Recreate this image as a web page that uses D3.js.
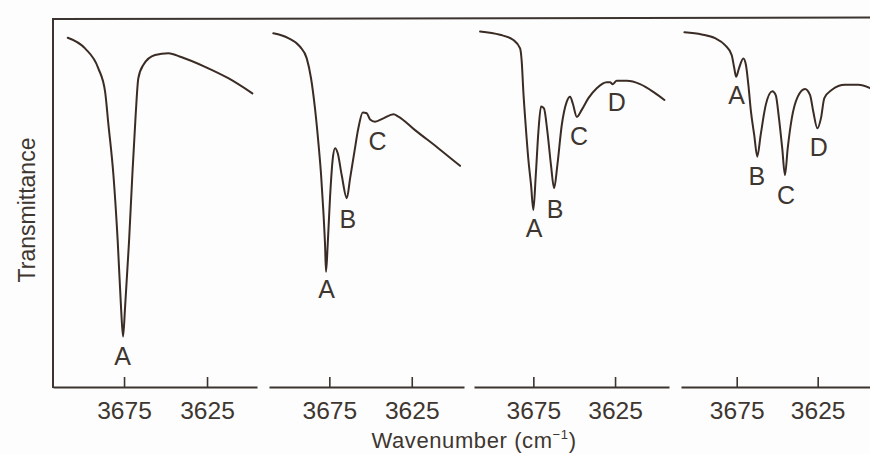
<!DOCTYPE html>
<html>
<head>
<meta charset="utf-8">
<script src="https://cdn.jsdelivr.net/npm/d3@7"></script>
<style>
  html, body { margin: 0; padding: 0; background: #fdfdfd; }
  svg { display: block; }
  text { font-family: "Liberation Sans", Arial, sans-serif; fill: #3e3630; }
</style>
</head>
<body>
<svg id="chart" width="870" height="454"></svg>
<script>
// ---- Data (wavenumber cm^-1, transmittance in arbitrary % units) ----
const tickValues = [3675, 3625];
const tickLabels = ["3675", "3625"];
const xTitle = "Wavenumber (cm";
const yTitle = "Transmittance";

const wn1 = [3708.9,3698.5,3690.5,3686.4,3684.5,3681.4,3678.8,3676.8,3675.6,3674.4,3672.0,3670.0,3668.0,3666.4,3663.4,3656.3,3648.3,3640.2,3626.2,3612.2,3597.7];
const t1  = [94.9,92.0,86.6,80.2,71.7,57.6,39.5,21.5,13.7,21.5,39.5,57.6,73.9,83.9,87.5,90.2,90.7,89.6,87.0,83.9,79.8];

const wn2 = [3709.0,3699.9,3692.8,3688.7,3686.1,3683.7,3681.7,3680.0,3678.6,3677.6,3677.0,3676.0,3674.6,3672.9,3671.5,3669.9,3667.5,3664.4,3662.4,3659.8,3657.4,3654.7,3652.3,3650.3,3647.3,3642.2,3636.1,3633.1,3623.0,3608.9,3595.7];
const t2  = [96.1,94.8,92.5,89.3,83.9,75.7,66.7,57.6,47.6,38.6,31.3,38.6,51.3,62.1,64.9,63.5,57.6,51.3,56.7,63.9,70.3,74.6,74.4,72.7,72.1,73.0,74.1,73.5,69.8,64.9,60.1];

const wn3 = [3707.6,3695.4,3687.2,3683.1,3682.1,3681.1,3679.7,3678.1,3676.4,3675.0,3673.5,3671.9,3670.3,3668.5,3666.4,3664.2,3662.3,3660.3,3657.6,3654.6,3652.5,3650.9,3648.4,3645.4,3641.3,3636.2,3630.1,3628.1,3626.4,3624.0,3617.8,3609.7,3601.6,3594.8];
const t3  = [96.6,95.7,94.3,92.0,88.4,80.2,71.2,62.1,54.9,48.1,57.6,69.4,76.2,75.7,69.4,60.3,54.0,60.3,71.2,77.5,78.9,77.1,73.4,75.3,78.5,81.2,82.8,82.8,82.3,83.2,83.2,82.3,80.2,78.0];

const wn4 = [3707.3,3696.6,3688.4,3682.2,3678.1,3676.5,3675.4,3673.6,3670.9,3669.3,3667.8,3666.2,3664.2,3662.3,3660.2,3657.1,3653.0,3650.9,3648.9,3646.9,3645.2,3643.5,3641.0,3637.3,3632.8,3629.7,3627.7,3625.2,3623.0,3620.9,3616.4,3608.1,3599.9,3592.7];
const t4  = [96.4,95.8,94.8,92.9,90.2,86.6,84.3,86.6,89.3,87.5,82.1,74.8,68.5,62.6,68.5,76.6,80.4,79.3,73.0,64.9,57.6,64.9,73.0,78.9,81.0,79.3,74.8,70.3,73.0,78.5,80.7,82.1,82.1,81.2];

// Band labels: letter, wavenumber, transmittance (baseline)
const labels1 = [["A",3675.9,6.0]];
const labels2 = [["A",3676.6,24.2],["B",3663.7,43.2],["C",3645.8,64.4]];
const labels3 = [["A",3674.6,40.8],["B",3661.7,45.9],["C",3647.0,65.8],["D",3624.0,75.0]];
const labels4 = [["A",3675.0,76.9],["B",3662.5,54.9],["C",3644.6,49.7],["D",3624.4,62.9]];

// ---- Layout ----
const svg = d3.select("#chart");
const axisY = 387, topY = 19;
const y = d3.scaleLinear().domain([0, 100]).range([axisY, topY]);

const panels = [
  {wn: wn1, t: t1, labels: labels1, range: [53, 257],  domain: [3717.8, 3594.9]},
  {wn: wn2, t: t2, labels: labels2, range: [269, 464], domain: [3711.6, 3593.3]},
  {wn: wn3, t: t3, labels: labels3, range: [474, 669], domain: [3711.3, 3592.0]},
  {wn: wn4, t: t4, labels: labels4, range: [681, 870], domain: [3709.4, 3592.7]}
];

const ink = "#3a2c24";
const axisInk = "#3b3430";

// frame: left and top lines
svg.append("line").attr("x1", 53).attr("x2", 53).attr("y1", topY - 1).attr("y2", axisY + 1)
  .attr("stroke", axisInk).attr("stroke-width", 2);
svg.append("line").attr("x1", 52).attr("x2", 870).attr("y1", topY).attr("y2", topY - 1.5)
  .attr("stroke", axisInk).attr("stroke-width", 2);

panels.forEach(p => {
  const x = d3.scaleLinear().domain(p.domain).range(p.range);
  const g = svg.append("g");

  const ax = d3.axisBottom(x)
    .tickValues(tickValues)
    .tickFormat((d, i) => tickLabels[i])
    .tickSizeInner(-10)
    .tickSizeOuter(0)
    .tickPadding(16);
  const axG = g.append("g").attr("transform", `translate(0,${axisY})`).call(ax);
  axG.attr("font-size", null).attr("font-family", null);
  axG.select(".domain").attr("stroke", axisInk).attr("stroke-width", 2);
  axG.selectAll(".tick line").attr("stroke", axisInk).attr("stroke-width", 1.6);
  axG.selectAll(".tick text")
    .attr("font-size", 23)
    .style("font-size", "23px")
    .attr("transform", "scale(1.07,1)")
    .attr("fill", "#3e3630");

  const pts = p.wn.map((w, i) => [w, p.t[i]]);
  const line = d3.line().x(d => x(d[0])).y(d => y(d[1])).curve(d3.curveMonotoneX);
  g.append("path").datum(pts).attr("d", line)
    .attr("fill", "none").attr("stroke", ink).attr("stroke-width", 2)
    .attr("stroke-linejoin", "round").attr("stroke-linecap", "round");

  g.selectAll("text.band").data(p.labels).enter().append("text")
    .attr("class", "band")
    .attr("x", d => x(d[1])).attr("y", d => y(d[2]))
    .attr("text-anchor", "middle")
    .style("font-size", "25px")
    .text(d => d[0]);
});

// axis titles
const xt = svg.append("text").attr("x", 474).attr("y", 448).attr("text-anchor", "middle")
  .style("font-size", "22px").style("letter-spacing", "0.6px");
xt.append("tspan").text(xTitle);
xt.append("tspan").attr("dy", -9).style("font-size", "13px").text("−1");
xt.append("tspan").attr("dy", 9).text(")");

svg.append("text").attr("transform", "translate(35,210) rotate(-90)")
  .attr("text-anchor", "middle").style("font-size", "23px").text(yTitle);
</script>
</body>
</html>
